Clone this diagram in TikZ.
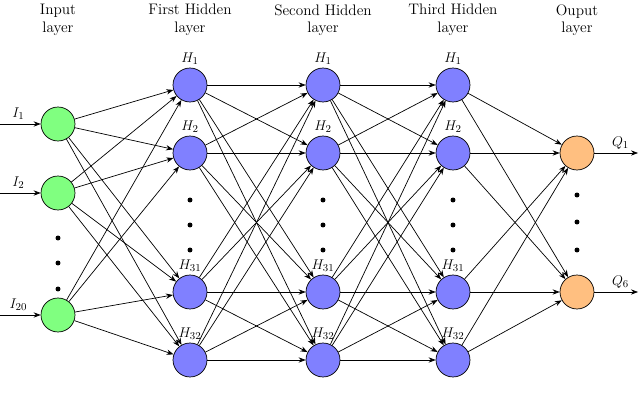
\documentclass[tikz,border=0pt]{standalone}
\usepackage{tikz}
\usetikzlibrary{arrows.meta,positioning}

\tikzset{
  neuron/.style={circle, draw=black, semithick, minimum size=29pt, inner sep=0pt},
  inneuron/.style={neuron, fill=green!50},
  hidneuron/.style={neuron, fill=blue!50},
  outneuron/.style={neuron, fill=orange!50},
  conn/.style={-{Stealth[length=6pt,width=4.5pt]}, semithick},
  dot/.style={circle, fill=black, inner sep=1.5pt},
  every label/.style={font=\fontsize{13}{15}\selectfont, inner sep=2.5pt}
}

\begin{document}
\begin{tikzpicture}[x=0.03cm, y=-0.03cm, font=\fontsize{13}{15}\selectfont]
    % Frame
    \useasboundingbox (0,0) rectangle (640,404);

    % Input layer
    \node[inneuron] (I-1) at (58,124) {};
    \node[inneuron] (I-2) at (58,193) {};
    \node[inneuron] (I-3) at (58,315) {};
    \foreach \y in {238,263,289} \node[dot] at (58,\y) {};

    % Hidden layers
    \foreach \l/\x in {1/190,2/323,3/453} {
        \node[hidneuron, label=above:{$H_1$}] (H\l-1) at (\x,85) {};
        \node[hidneuron, label=above:{$H_2$}] (H\l-2) at (\x,153) {};
        \node[hidneuron, label=above:{$H_{31}$}] (H\l-3) at (\x,292) {};
        \node[hidneuron, label=above:{$H_{32}$}] (H\l-4) at (\x,360) {};
        \foreach \y in {200,225,250} \node[dot] at (\x,\y) {};
    }

    % Output layer
    \node[outneuron] (O-1) at (577,153) {};
    \node[outneuron] (O-2) at (577,292) {};
    \foreach \y in {195,222,250} \node[dot] at (577,\y) {};

    % Headings
    \node[align=center] (t0) at (58,20) {Input\\layer};
    \node[align=center] (t1) at (190,20) {First Hidden\\layer};
    \node[align=center] (t2) at (323,20) {Second Hidden\\layer};
    \node[align=center] (t3) at (453,20) {Third Hidden\\layer};
    \node[align=center] (t4) at (577,20) {Ouput\\layer};

    % Inputs and outputs
    \foreach \i/\n in {1/1,2/2,3/20} {
        \coordinate (in\i) at (0,0 |- I-\i);
        \draw[conn] (in\i) -- (I-\i) node[pos=0.45, above] {$I_{\n}$};
    }
    \foreach \i/\n in {1/1,2/6} {
        \coordinate (out\i) at (638,0 |- O-\i);
        \draw[conn] (O-\i) -- (out\i) node[pos=0.6, above] {$Q_{\n}$};
    }

    % Connections
    \foreach \i in {1,2,3}
        \foreach \j in {1,...,4}
            \draw[conn] (I-\i) -- (H1-\j);
    \foreach \a/\b in {1/2,2/3}
        \foreach \i in {1,...,4}
            \foreach \j in {1,...,4}
                \draw[conn] (H\a-\i) -- (H\b-\j);
    \foreach \i in {1,...,4}
        \foreach \j in {1,2}
            \draw[conn] (H3-\i) -- (O-\j);
\end{tikzpicture}
\end{document}
